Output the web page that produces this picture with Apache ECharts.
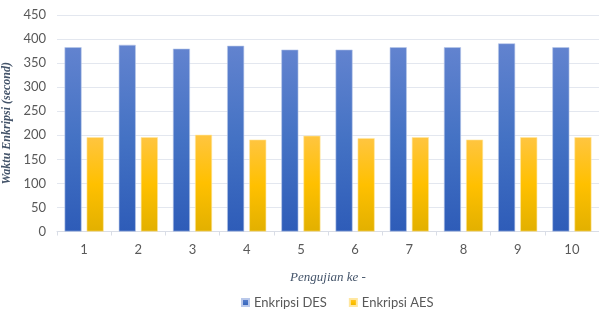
<!DOCTYPE html>
<html>
<head>
<meta charset="utf-8">
<script src="https://cdn.jsdelivr.net/npm/echarts@6/dist/echarts.min.js"></script>
<style>html,body{margin:0;padding:0;background:#fff}#c{width:599px;height:325px}</style>
</head>
<body>
<div id="c"></div>
<script>
var categories = ['1','2','3','4','5','6','7','8','9','10'];
var desValues = [383, 388, 380, 386, 378, 378, 383, 383, 391, 383];
var aesValues = [196, 196, 201, 191, 199, 194, 196, 191, 196, 196];
var yTicks = [0, 50, 100, 150, 200, 250, 300, 350, 400, 450];

var chart = echarts.init(document.getElementById('c'), null, {renderer: 'canvas'});
var labelFont = 'Lato, "Open Sans", sans-serif';
chart.setOption({
  animation: false,
  backgroundColor: '#ffffff',
  grid: {left: 57, right: 0, top: 15, bottom: 93.5, containLabel: false, outerBoundsMode: 'none'},
  legend: {
    left: 236, top: 291,
    itemWidth: 7, itemHeight: 7, itemGap: 22,
    icon: 'rect',
    textStyle: {color: '#595959', fontSize: 13, fontFamily: 'Lato'},
    data: ['Enkripsi DES', 'Enkripsi AES']
  },
  xAxis: {
    type: 'category',
    data: categories,
    name: 'Pengujian ke -',
    nameLocation: 'middle',
    nameGap: 40,
    nameTextStyle: {color: '#44546a', fontSize: 13, fontStyle: 'italic', fontFamily: '"Liberation Serif", "DejaVu Serif", serif'},
    axisLine: {lineStyle: {color: '#d9dde6'}},
    axisTick: {show: true, length: 4, lineStyle: {color: '#d9dde6'}},
    axisLabel: {color: '#595959', fontSize: 13, margin: 12, fontFamily: labelFont}
  },
  yAxis: {
    type: 'value',
    min: yTicks[0], max: yTicks[yTicks.length - 1], interval: 50,
    name: 'Waktu Enkripsi (second)',
    nameLocation: 'middle',
    nameGap: 37,
    nameRotate: 90,
    nameTextStyle: {color: '#44546a', fontSize: 12, fontStyle: 'italic', fontWeight: 'bold', fontFamily: '"Liberation Serif", "DejaVu Serif", serif'},
    axisLine: {show: false},
    axisTick: {show: false},
    axisLabel: {color: '#595959', fontSize: 13, margin: 11, fontFamily: labelFont},
    splitLine: {lineStyle: {color: '#e3e7ef', width: 1}}
  },
  series: [
    {
      name: 'Enkripsi DES', type: 'bar', data: desValues,
      barWidth: 17, barGap: '30%',
      itemStyle: {
        color: new echarts.graphic.LinearGradient(0, 0, 0, 1, [
          {offset: 0, color: '#6283cf'},
          {offset: 0.5, color: '#4472c4'},
          {offset: 1, color: '#2e5cb8'}
        ]),
        borderColor: '#b9c8ea', borderWidth: 0.6
      }
    },
    {
      name: 'Enkripsi AES', type: 'bar', data: aesValues,
      barWidth: 17,
      itemStyle: {
        color: new echarts.graphic.LinearGradient(0, 0, 0, 1, [
          {offset: 0, color: '#ffc540'},
          {offset: 0.5, color: '#ffc000'},
          {offset: 1, color: '#e2b000'}
        ]),
        borderColor: '#ffe7a0', borderWidth: 0.6
      }
    }
  ]
});
</script>
</body>
</html>
